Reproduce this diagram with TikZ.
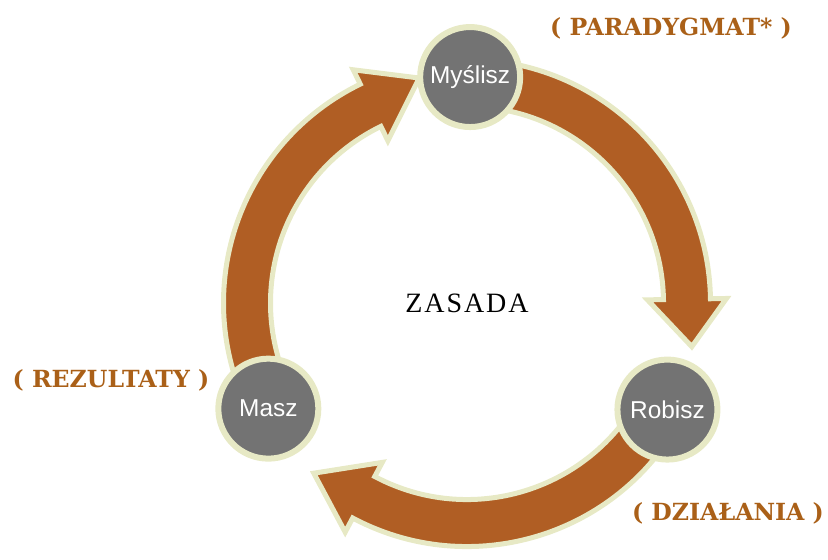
\documentclass[tikz,border=0pt]{standalone}
\usepackage{fontspec}
\setmainfont{Liberation Serif}
\setsansfont{Liberation Sans}
\newfontfamily\titrefont{DejaVu Serif}
\usetikzlibrary{positioning, calc}
\definecolor{brique}{RGB}{176,94,36}
\definecolor{creme}{RGB}{231,233,197}
\definecolor{ardoise}{RGB}{115,115,115}
\definecolor{ocre}{RGB}{170,96,24}

\begin{document}
\begin{tikzpicture}[x=0.5pt,y=0.5pt]
        \tikzset{
          cercle gris/.style={
            circle,draw=creme,fill=ardoise,line width=3pt,
            minimum size=50pt,inner sep=0pt,
            font=\sffamily\fontsize{12.2}{14}\selectfont,text=white,
          },
          etiquette/.style={
            font=\titrefont\bfseries\fontsize{11.8}{14}\selectfont,text=ocre,
          },
          fleche ronde/.style={
            draw=creme,fill=brique,line width=2.5pt,
          },
          }
        \useasboundingbox (-467,-256) rectangle (361,303);
        \coordinate (centre) at (0,0);

        \draw[fleche ronde] (90:243.5) arc[start angle=90,end angle=1,radius=243.5]
            -- (1:259.5) -- (-11:229) -- (1:180.5) -- (1:196.5)
            arc[start angle=1,end angle=90,radius=196.5] -- cycle;
        \draw[fleche ronde] (-28:243.5) arc[start angle=-28,end angle=-118,radius=243.5]
            -- (-118:259.5) -- (-132:229) -- (-118:180.5) -- (-118:196.5)
            arc[start angle=-118,end angle=-28,radius=196.5] -- cycle;
        \draw[fleche ronde] (208:243.5) arc[start angle=208,end angle=116,radius=243.5]
            -- (116:259.5) -- (102:230) -- (116:180.5) -- (116:196.5)
            arc[start angle=116,end angle=208,radius=196.5] -- cycle;

        \node[cercle gris] (myslisz) at (89.2:226) {Myślisz};
        \node[cercle gris] (robisz) at (-28:227) {Robisz};
        \node[cercle gris] (masz) at (208:225) {Masz};

        \node[font=\fontsize{14}{16}\selectfont\addfontfeature{LetterSpace=7}] (zasada) at (centre) {ZASADA};
        \node[etiquette] (paradygmat) at (204,275) {( PARADYGMAT* )};
        \node[etiquette] (dzialania) at (261,-210) {( DZIAŁANIA )};
        \node[etiquette] (rezultaty) at (-356,-77) {( REZULTATY )};
      \end{tikzpicture}
\end{document}
